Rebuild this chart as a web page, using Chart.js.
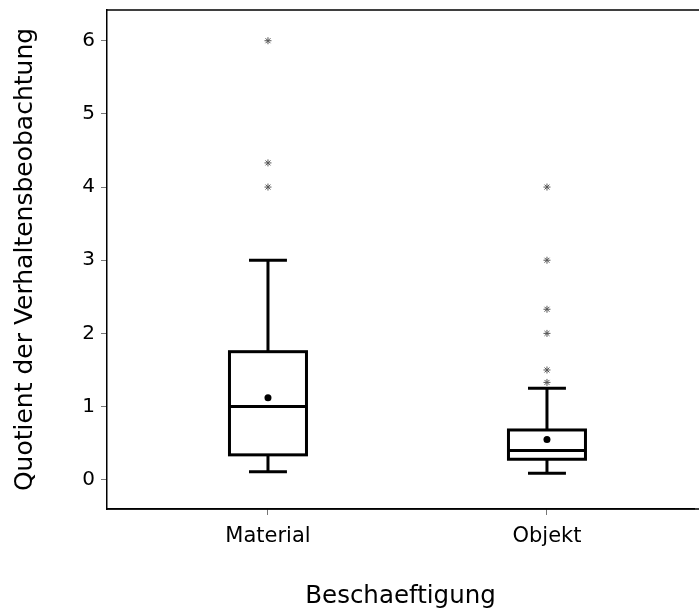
<!DOCTYPE html>
<html>
<head>
<meta charset="utf-8">
<script src="https://cdn.jsdelivr.net/npm/chart.js@4/dist/chart.umd.min.js"></script>
<style>
    html, body { margin: 0; padding: 0; background: #fff; overflow: hidden; }
</style>
</head>
<body>
<canvas id="canvas" width="699" height="610"></canvas>
<script>
var categories = ['Material', 'Objekt'];
var whiskerLow = [0.11, 0.09];
var q1 = [0.34, 0.28];
var median = [1.0, 0.4];
var q3 = [1.75, 0.68];
var whiskerHigh = [3.0, 1.25];
var means = [1.12, 0.55];
var outliers = [
    [4.0, 4.33, 6.0],
    [1.33, 1.5, 2.0, 2.33, 3.0, 4.0]
];
var yTicks = [0, 1, 2, 3, 4, 5, 6];

var fontFamily = "'DejaVu Sans', sans-serif";

// scatter points for outliers and means, positions come from the scales
var outlierPoints = [];
outliers.forEach(function (list, i) {
    list.forEach(function (v) { outlierPoints.push({ x: i + 1, y: v }); });
});
var meanPoints = means.map(function (v, i) { return { x: i + 1, y: v }; });

var boxPlugin = {
    id: 'boxes',
    beforeDatasetsDraw: function (chart) {
        var ctx = chart.ctx;
        var xs = chart.scales.x, ys = chart.scales.y;
        var area = chart.chartArea;
        ctx.save();
        // top and bottom frame lines, running out to the right edge
        ctx.strokeStyle = '#000';
        ctx.lineWidth = 1.5;
        ctx.beginPath();
        ctx.moveTo(area.left, area.top);
        ctx.lineTo(chart.width, area.top);
        ctx.moveTo(area.left, area.bottom);
        ctx.lineTo(chart.width, area.bottom);
        ctx.stroke();

        ctx.lineWidth = 3;
        ctx.lineCap = 'butt';
        for (var i = 0; i < categories.length; i++) {
            var c = xs.getPixelForValue(i + 1);
            var bl = xs.getPixelForValue(i + 1 - 0.138);
            var br = xs.getPixelForValue(i + 1 + 0.138);
            var cl = xs.getPixelForValue(i + 1 - 0.068);
            var cr = xs.getPixelForValue(i + 1 + 0.068);
            var yLo = ys.getPixelForValue(whiskerLow[i]);
            var yQ1 = ys.getPixelForValue(q1[i]);
            var yMed = ys.getPixelForValue(median[i]);
            var yQ3 = ys.getPixelForValue(q3[i]);
            var yHi = ys.getPixelForValue(whiskerHigh[i]);

            ctx.beginPath();
            // whiskers
            ctx.moveTo(c, yQ3); ctx.lineTo(c, yHi);
            ctx.moveTo(cl, yHi); ctx.lineTo(cr, yHi);
            ctx.moveTo(c, yQ1); ctx.lineTo(c, yLo);
            ctx.moveTo(cl, yLo); ctx.lineTo(cr, yLo);
            // median
            ctx.moveTo(bl, yMed); ctx.lineTo(br, yMed);
            ctx.stroke();
            ctx.strokeRect(bl, yQ3, br - bl, yQ1 - yQ3);
        }
        ctx.restore();
    }
};

var ctx = document.getElementById('canvas').getContext('2d');

var myChart = new Chart(ctx, {
    type: 'scatter',
    data: {
        datasets: [
            {
                label: 'Ausreisser',
                data: outlierPoints,
                pointStyle: 'star',
                radius: 3.5,
                borderColor: '#555',
                backgroundColor: '#555',
                borderWidth: 1
            },
            {
                label: 'Mittelwert',
                data: meanPoints,
                pointStyle: 'circle',
                radius: 3.5,
                borderColor: '#000',
                backgroundColor: '#000',
                borderWidth: 0
            }
        ]
    },
    options: {
        responsive: false,
        animation: false,
        events: [],
        layout: { padding: { top: 10, right: 0, left: 0, bottom: 0 } },
        plugins: {
            legend: { display: false },
            tooltip: { enabled: false }
        },
        scales: {
            x: {
                type: 'linear',
                min: 0.423,
                max: 2.527,
                afterBuildTicks: function (scale) {
                    scale.ticks = categories.map(function (c, i) { return { value: i + 1 }; });
                },
                afterFit: function (scale) {
                    scale.height = 101;
                    scale.paddingLeft = 0;
                    scale.paddingRight = 0;
                },
                ticks: {
                    autoSkip: false,
                    maxRotation: 0,
                    padding: 9,
                    color: '#000',
                    font: { family: fontFamily, size: 21 },
                    callback: function (v) { return categories[v - 1]; }
                },
                grid: { drawOnChartArea: false, tickLength: 6, color: '#777', tickWidth: 1 },
                border: { display: true, color: '#000', width: 1.5 },
                title: {
                    display: true,
                    text: 'Beschaeftigung',
                    color: '#000',
                    padding: { top: 0, bottom: -1 },
                    font: { family: fontFamily, size: 24.5 }
                }
            },
            y: {
                min: -0.40,
                max: 6.42,
                afterBuildTicks: function (scale) {
                    scale.ticks = yTicks.map(function (v) { return { value: v }; });
                },
                afterFit: function (scale) {
                    scale.width = 107;
                    scale.paddingTop = 0;
                    scale.paddingBottom = 0;
                },
                ticks: {
                    padding: 6,
                    color: '#000',
                    font: { family: fontFamily, size: 20 }
                },
                grid: { drawOnChartArea: false, tickLength: 6, color: '#777', tickWidth: 1 },
                border: { display: true, color: '#000', width: 1.5 },
                title: {
                    display: true,
                    text: 'Quotient der Verhaltensbeobachtung',
                    color: '#000',
                    padding: { top: 10, bottom: 0 },
                    font: { family: fontFamily, size: 25 }
                }
            }
        }
    },
    plugins: [boxPlugin]
});
</script>
</body>
</html>
